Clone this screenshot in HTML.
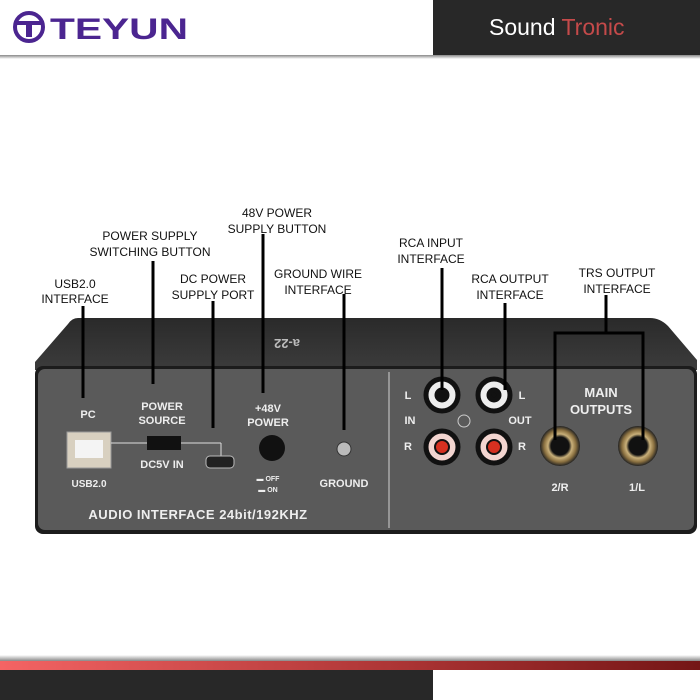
<!DOCTYPE html>
<html><head><style>
html,body{margin:0;padding:0;background:#fff;width:700px;height:700px;overflow:hidden}
svg{display:block}
</style></head><body>
<svg width="700" height="700" viewBox="0 0 700 700" xmlns="http://www.w3.org/2000/svg" font-family="Liberation Sans, sans-serif">
<defs>
<linearGradient id="red" x1="0" x2="1"><stop offset="0" stop-color="#f46464"/><stop offset="0.6" stop-color="#a83232"/><stop offset="1" stop-color="#741616"/></linearGradient>
<linearGradient id="sh" x1="0" y1="0" x2="0" y2="1"><stop offset="0" stop-color="#888"/><stop offset="1" stop-color="#fff"/></linearGradient>
<linearGradient id="lid" x1="0" y1="0" x2="0" y2="1"><stop offset="0" stop-color="#2a2a2a"/><stop offset="1" stop-color="#3c3c3c"/></linearGradient>
<radialGradient id="gold"><stop offset="0.45" stop-color="#111"/><stop offset="0.6" stop-color="#c9b07a"/><stop offset="0.8" stop-color="#8a7040"/><stop offset="1" stop-color="#222"/></radialGradient>
</defs>
<rect x="433" y="0" width="267" height="55" fill="#282828"/>
<rect x="0" y="55" width="700" height="4" fill="url(#sh)"/>
<text x="489" y="35" font-size="23" fill="#fff">Sound <tspan fill="#c44a4a">Tronic</tspan></text>
<circle cx="29" cy="27" r="14" fill="none" stroke="#4b2590" stroke-width="4"/>
<rect x="17" y="21" width="24" height="4" fill="#4b2590"/>
<rect x="26" y="21" width="6" height="16" fill="#4b2590"/>
<text x="50" y="39" font-size="30" font-weight="900" fill="#4b2590" textLength="138" lengthAdjust="spacingAndGlyphs">TEYUN</text>
<rect x="0" y="655" width="700" height="6" fill="url(#sh)" transform="rotate(180 350 658)"/>
<rect x="0" y="661" width="700" height="9" fill="url(#red)"/>
<rect x="0" y="670" width="433" height="30" fill="#282828"/>
<path d="M78 318 L650 318 Q660 318 668 326 L697 360 L697 370 L35 370 L35 362 L68 324 Q72 318 78 318Z" fill="url(#lid)"/>
<text x="340" y="347" font-size="13" fill="#bbb" transform="rotate(180 320 343)" font-weight="bold">a-22</text>
<rect x="35" y="366" width="662" height="168" rx="8" fill="#1c1c1c"/>
<rect x="38" y="369" width="656" height="161" rx="7" fill="#5a5a5a"/>
<line x1="389" y1="372" x2="389" y2="528" stroke="#aaa" stroke-width="1.5"/>
<g fill="#eee" font-weight="bold" font-size="11" text-anchor="middle">
<text x="88" y="418">PC</text>
<text x="162" y="410">POWER</text><text x="162" y="424">SOURCE</text>
<text x="268" y="412">+48V</text><text x="268" y="426">POWER</text>
<text x="162" y="468">DC5V IN</text>
<text x="89" y="487" font-size="10">USB2.0</text>
<text x="344" y="487">GROUND</text>
<text x="268" y="481" font-size="7">▬ OFF</text><text x="268" y="492" font-size="7">▬ ON</text>
<text x="198" y="519" font-size="13" letter-spacing="0.5">AUDIO INTERFACE 24bit/192KHZ</text>
<text x="408" y="399">L</text><text x="410" y="424">IN</text><text x="408" y="450">R</text>
<text x="522" y="399">L</text><text x="520" y="424">OUT</text><text x="522" y="450">R</text>
<text x="601" y="397" font-size="13">MAIN</text><text x="601" y="414" font-size="13">OUTPUTS</text>
<text x="560" y="491">2/R</text><text x="637" y="491">1/L</text>
</g>
<rect x="67" y="432" width="44" height="36" fill="#d8d0c0" stroke="#999"/>
<rect x="75" y="440" width="28" height="18" fill="#f4f4f4"/>
<line x1="111" y1="443" x2="147" y2="443" stroke="#ddd"/>
<line x1="181" y1="443" x2="221" y2="443" stroke="#ddd"/><line x1="221" y1="443" x2="221" y2="456" stroke="#ddd"/>
<rect x="147" y="436" width="34" height="14" fill="#111"/>
<rect x="206" y="456" width="28" height="12" rx="4" fill="#222" stroke="#bbb"/>
<circle cx="272" cy="448" r="13" fill="#111"/>
<circle cx="344" cy="449" r="7" fill="#bbb" stroke="#333"/>
<g stroke="#111" stroke-width="5">
<circle cx="442" cy="395" r="16" fill="#eee"/><circle cx="442" cy="395" r="5" fill="#111"/>
<circle cx="494" cy="395" r="16" fill="#eee"/><circle cx="494" cy="395" r="5" fill="#111"/>
<circle cx="442" cy="447" r="16" fill="#f3d5d0"/><circle cx="442" cy="447" r="7" fill="#d63020" stroke-width="2"/>
<circle cx="494" cy="447" r="16" fill="#f3d5d0"/><circle cx="494" cy="447" r="7" fill="#d63020" stroke-width="2"/>
</g>
<circle cx="464" cy="421" r="6" fill="none" stroke="#ccc"/>
<circle cx="560" cy="446" r="20" fill="url(#gold)"/>
<circle cx="638" cy="446" r="20" fill="url(#gold)"/>
<g font-size="12" fill="#111" text-anchor="middle">
<text x="75" y="288">USB2.0</text><text x="75" y="303">INTERFACE</text>
<text x="150" y="240">POWER SUPPLY</text><text x="150" y="256">SWITCHING BUTTON</text>
<text x="213" y="283">DC POWER</text><text x="213" y="299">SUPPLY PORT</text>
<text x="277" y="217">48V POWER</text><text x="277" y="233">SUPPLY BUTTON</text>
<text x="318" y="278">GROUND WIRE</text><text x="318" y="294">INTERFACE</text>
<text x="431" y="247">RCA INPUT</text><text x="431" y="263">INTERFACE</text>
<text x="510" y="283">RCA OUTPUT</text><text x="510" y="299">INTERFACE</text>
<text x="617" y="277">TRS OUTPUT</text><text x="617" y="293">INTERFACE</text>
</g>
<g stroke="#000" stroke-width="3" fill="none">
<line x1="83" y1="306" x2="83" y2="398"/>
<line x1="153" y1="261" x2="153" y2="384"/>
<line x1="213" y1="301" x2="213" y2="428"/>
<line x1="263" y1="234" x2="263" y2="393"/>
<line x1="344" y1="294" x2="344" y2="430"/>
<line x1="442" y1="268" x2="442" y2="390"/>
<line x1="505" y1="303" x2="505" y2="390"/>
<line x1="606" y1="295" x2="606" y2="332"/>
<path d="M555 440 L555 333 L643 333 L643 440"/>
</g>
</svg>
</body></html>
